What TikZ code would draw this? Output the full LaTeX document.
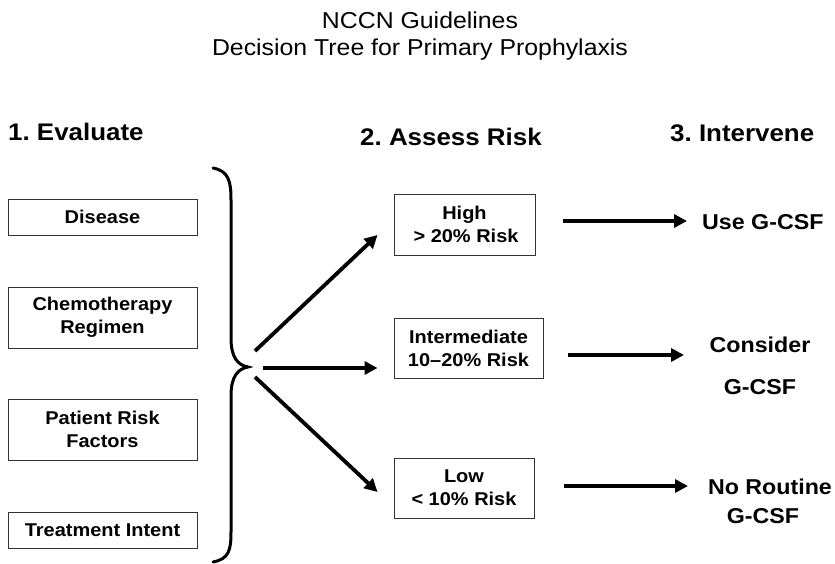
\documentclass[tikz,border=0pt]{standalone}
\usepackage{fontspec}
\setmainfont{Liberation Sans}[FakeStretch=1.08]
\usetikzlibrary{arrows.meta,calc}
\frenchspacing
\begin{document}
\begin{tikzpicture}[x=1pt,y=-1pt,
  box/.style={draw=black!80,line width=0.9pt,inner sep=0pt,align=center,
    font=\bfseries\fontsize{18.5}{23}\selectfont},
  head/.style={inner sep=0pt,font=\bfseries\fontsize{24}{28}\selectfont},
  ttl/.style={inner sep=0pt,font=\fontsize{23}{27}\selectfont},
  act/.style={inner sep=0pt,align=center,font=\bfseries\fontsize{21.5}{26}\selectfont},
  arr/.style={line width=3.8pt,-{Triangle[length=13pt,width=13pt]}},
  brace/.style={line width=3pt,line cap=round}]
\useasboundingbox (0,0) rectangle (835,564);
% titles
\node[ttl] (t1) at (420,20.5) {NCCN Guidelines};
\node[ttl] (t2) at (420,50) {Decision Tree for Primary Prophylaxis};
% headings
\node[head,anchor=west] (h1) at (8,132) {1. Evaluate};
\node[head,anchor=west] (h2) at (360,137) {2. Assess Risk};
\node[head,anchor=west] (h3) at (670,133) {3. Intervene};
% evaluate boxes
\node[box,minimum width=189pt,minimum height=36pt] (dis) at (102.5,217) {Disease};
\node[box,minimum width=189pt,minimum height=61pt] (chemo) at (102.5,317.5) {Chemotherapy\\Regimen};
\node[box,minimum width=189pt,minimum height=61pt] (pat) at (102.5,429.5) {Patient Risk\\Factors};
\node[box,minimum width=189pt,minimum height=36pt] (treat) at (102.5,530) {Treatment Intent};
% brace
\draw[brace] (213,168) .. controls (229,171) and (231,182) .. (231,200) -- (231,338)
  .. controls (231,358) and (238,365) .. (248,367)
  .. controls (238,369) and (231,376) .. (231,396) -- (231,532)
  .. controls (231,550) and (229,559) .. (213,562);
\coordinate (bt) at (248,367);
% risk boxes
\node[box,minimum width=141pt,minimum height=61pt] (high) at (464.5,224.5) {High\\\,> 20\% Risk};
\node[box,minimum width=149pt,minimum height=60pt] (mid) at (468.5,348) {Intermediate\\10–20\% Risk};
\node[box,minimum width=140pt,minimum height=60pt] (low) at (464,488) {Low\\< 10\% Risk};
% brace arrows
\coordinate (s1) at ($(bt)+(7,-16)$);
\coordinate (s2) at ($(bt)+(15,1)$);
\coordinate (s3) at ($(bt)+(7,10)$);
\coordinate (e1) at ($(high.west)+(-16,10.5)$);
\coordinate (e2) at ($(mid.west)+(-16,20)$);
\coordinate (e3) at ($(low.west)+(-16,4)$);
\draw[arr] (s1) -- (e1);
\draw[arr] (s2) -- (e2);
\draw[arr] (s3) -- (e3);
% interventions
\node[act,anchor=west] (use) at (702,222) {Use G-CSF};
\node[act] (cons) at (760,345) {Consider};
\node[act] (cons2) at (760,387) {G-CSF};
\node[act] (nor) at (770,487) {No Routine};
\node[act] (nor2) at (763,516) {G-CSF};
% right arrows
\coordinate (r1s) at (563,221);
\coordinate (r1e) at (687,221);
\coordinate (r2s) at (568,355);
\coordinate (r2e) at (684,355);
\coordinate (r3s) at (564,486);
\coordinate (r3e) at (688,486);
\draw[arr] (r1s) -- (r1e);
\draw[arr] (r2s) -- (r2e);
\draw[arr] (r3s) -- (r3e);
\end{tikzpicture}
\end{document}
